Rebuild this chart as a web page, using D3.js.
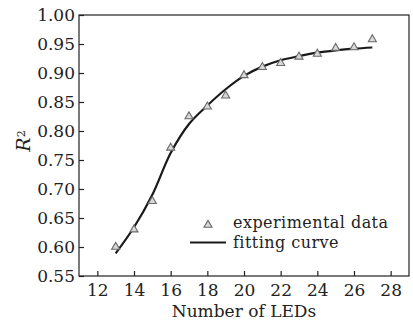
<!DOCTYPE html>
<html>
<head>
<meta charset="utf-8">
<script src="https://cdn.jsdelivr.net/npm/d3@7/dist/d3.min.js"></script>
<style>
  html, body { margin: 0; padding: 0; background: #fff; }
  svg { display: block; }
  text { font-family: "DejaVu Serif", "Liberation Serif", serif; fill: #222; }
</style>
</head>
<body>
<svg id="chart" width="413" height="323"></svg>
<script>
// Measured R² for each LED count
const ledCounts = [13, 14, 15, 16, 17, 18, 19, 20, 21, 22, 23, 24, 25, 26, 27];
const r2Measured = [0.600, 0.630, 0.679, 0.771, 0.825, 0.842, 0.861, 0.896, 0.910, 0.917, 0.928, 0.933, 0.943, 0.944, 0.958];

// Fitted curve sampled at the same LED counts
const fitCounts = [13, 14, 15, 16, 17, 18, 19, 20, 21, 22, 23, 24, 25, 26, 27];
const fitValues = [0.589, 0.634, 0.690, 0.762, 0.812, 0.844, 0.872, 0.895, 0.911, 0.922, 0.929, 0.935, 0.939, 0.942, 0.944];

const xTicks = [12, 14, 16, 18, 20, 22, 24, 26, 28];
const yTicks = [0.55, 0.60, 0.65, 0.70, 0.75, 0.80, 0.85, 0.90, 0.95, 1.00];

const legendLabels = ["experimental data", "fitting curve"];

const svg = d3.select("#chart");
const margin = { left: 79, top: 15, right: 4, bottom: 47 };
const W = 413, H = 323;
const iw = W - margin.left - margin.right;
const ih = H - margin.top - margin.bottom;
const fs = "17px";

const x = d3.scaleLinear().domain([11, 29]).range([0, iw]);
const y = d3.scaleLinear().domain([0.55, 1.00]).range([ih, 0]);

const g = svg.append("g").attr("transform", `translate(${margin.left},${margin.top})`);

// Bottom axis with inward ticks
const xAxis = g.append("g")
  .attr("transform", `translate(0,${ih})`)
  .call(d3.axisBottom(x).tickValues(xTicks).tickSizeInner(-5).tickSizeOuter(0).tickFormat(d3.format("d")));
xAxis.select(".domain").remove();
xAxis.selectAll(".tick line").attr("stroke", "#222").attr("stroke-width", 1.2);
xAxis.selectAll(".tick text")
  .attr("y", 7.5).attr("dy", "0.71em")
  .style("font-size", fs).style("font-family", "DejaVu Serif");

// Left axis with inward ticks
const yAxis = g.append("g")
  .call(d3.axisLeft(y).tickValues(yTicks).tickSizeInner(-5).tickSizeOuter(0).tickFormat(d3.format(".2f")));
yAxis.select(".domain").remove();
yAxis.selectAll(".tick line").attr("stroke", "#222").attr("stroke-width", 1.2);
yAxis.selectAll(".tick text")
  .attr("x", -4)
  .style("font-size", fs).style("font-family", "DejaVu Serif");

// Frame around the plot area
g.append("rect")
  .attr("x", 0).attr("y", 0).attr("width", iw).attr("height", ih)
  .attr("fill", "none").attr("stroke", "#222").attr("stroke-width", 1.2);

// Fitting curve
const line = d3.line()
  .x((d, i) => x(fitCounts[i]))
  .y(d => y(d))
  .curve(d3.curveCatmullRom.alpha(0.5));
g.append("path")
  .datum(fitValues)
  .attr("d", line)
  .attr("fill", "none")
  .attr("stroke", "#1a1a1a")
  .attr("stroke-width", 2.2);

// Triangle markers for measured data
const tri = d3.symbol().type(d3.symbolTriangle).size(28);
g.selectAll(".pt")
  .data(r2Measured)
  .join("path")
  .attr("class", "pt")
  .attr("d", tri)
  .attr("transform", (d, i) => `translate(${x(ledCounts[i])},${y(d)})`)
  .attr("fill", "#d8d8d8")
  .attr("stroke", "#6a6a6a")
  .attr("stroke-width", 1.1);

// Legend
const lg = svg.append("g");
lg.append("path")
  .attr("d", tri)
  .attr("transform", "translate(208,225)")
  .attr("fill", "#d8d8d8").attr("stroke", "#6a6a6a").attr("stroke-width", 1.1);
lg.append("text").attr("x", 233).attr("y", 228)
  .style("font-size", "16px").style("letter-spacing", "0.45px").text(legendLabels[0]);
lg.append("line")
  .attr("x1", 190).attr("x2", 226).attr("y1", 242.5).attr("y2", 242.5)
  .attr("stroke", "#1a1a1a").attr("stroke-width", 2.2);
lg.append("text").attr("x", 233).attr("y", 247.5)
  .style("font-size", "16px").style("letter-spacing", "0.45px").text(legendLabels[1]);

// Axis titles
svg.append("text")
  .attr("x", margin.left + x(20)).attr("y", 316.5)
  .attr("text-anchor", "middle")
  .style("font-size", fs)
  .text("Number of LEDs");

const yt = svg.append("text")
  .attr("transform", `translate(30,141) rotate(-90)`)
  .attr("text-anchor", "middle")
  .style("font-size", "19px");
yt.append("tspan").style("font-style", "italic").text("R");
yt.append("tspan").attr("dy", "-0.45em").style("font-size", "11px").text("2");
</script>
</body>
</html>
